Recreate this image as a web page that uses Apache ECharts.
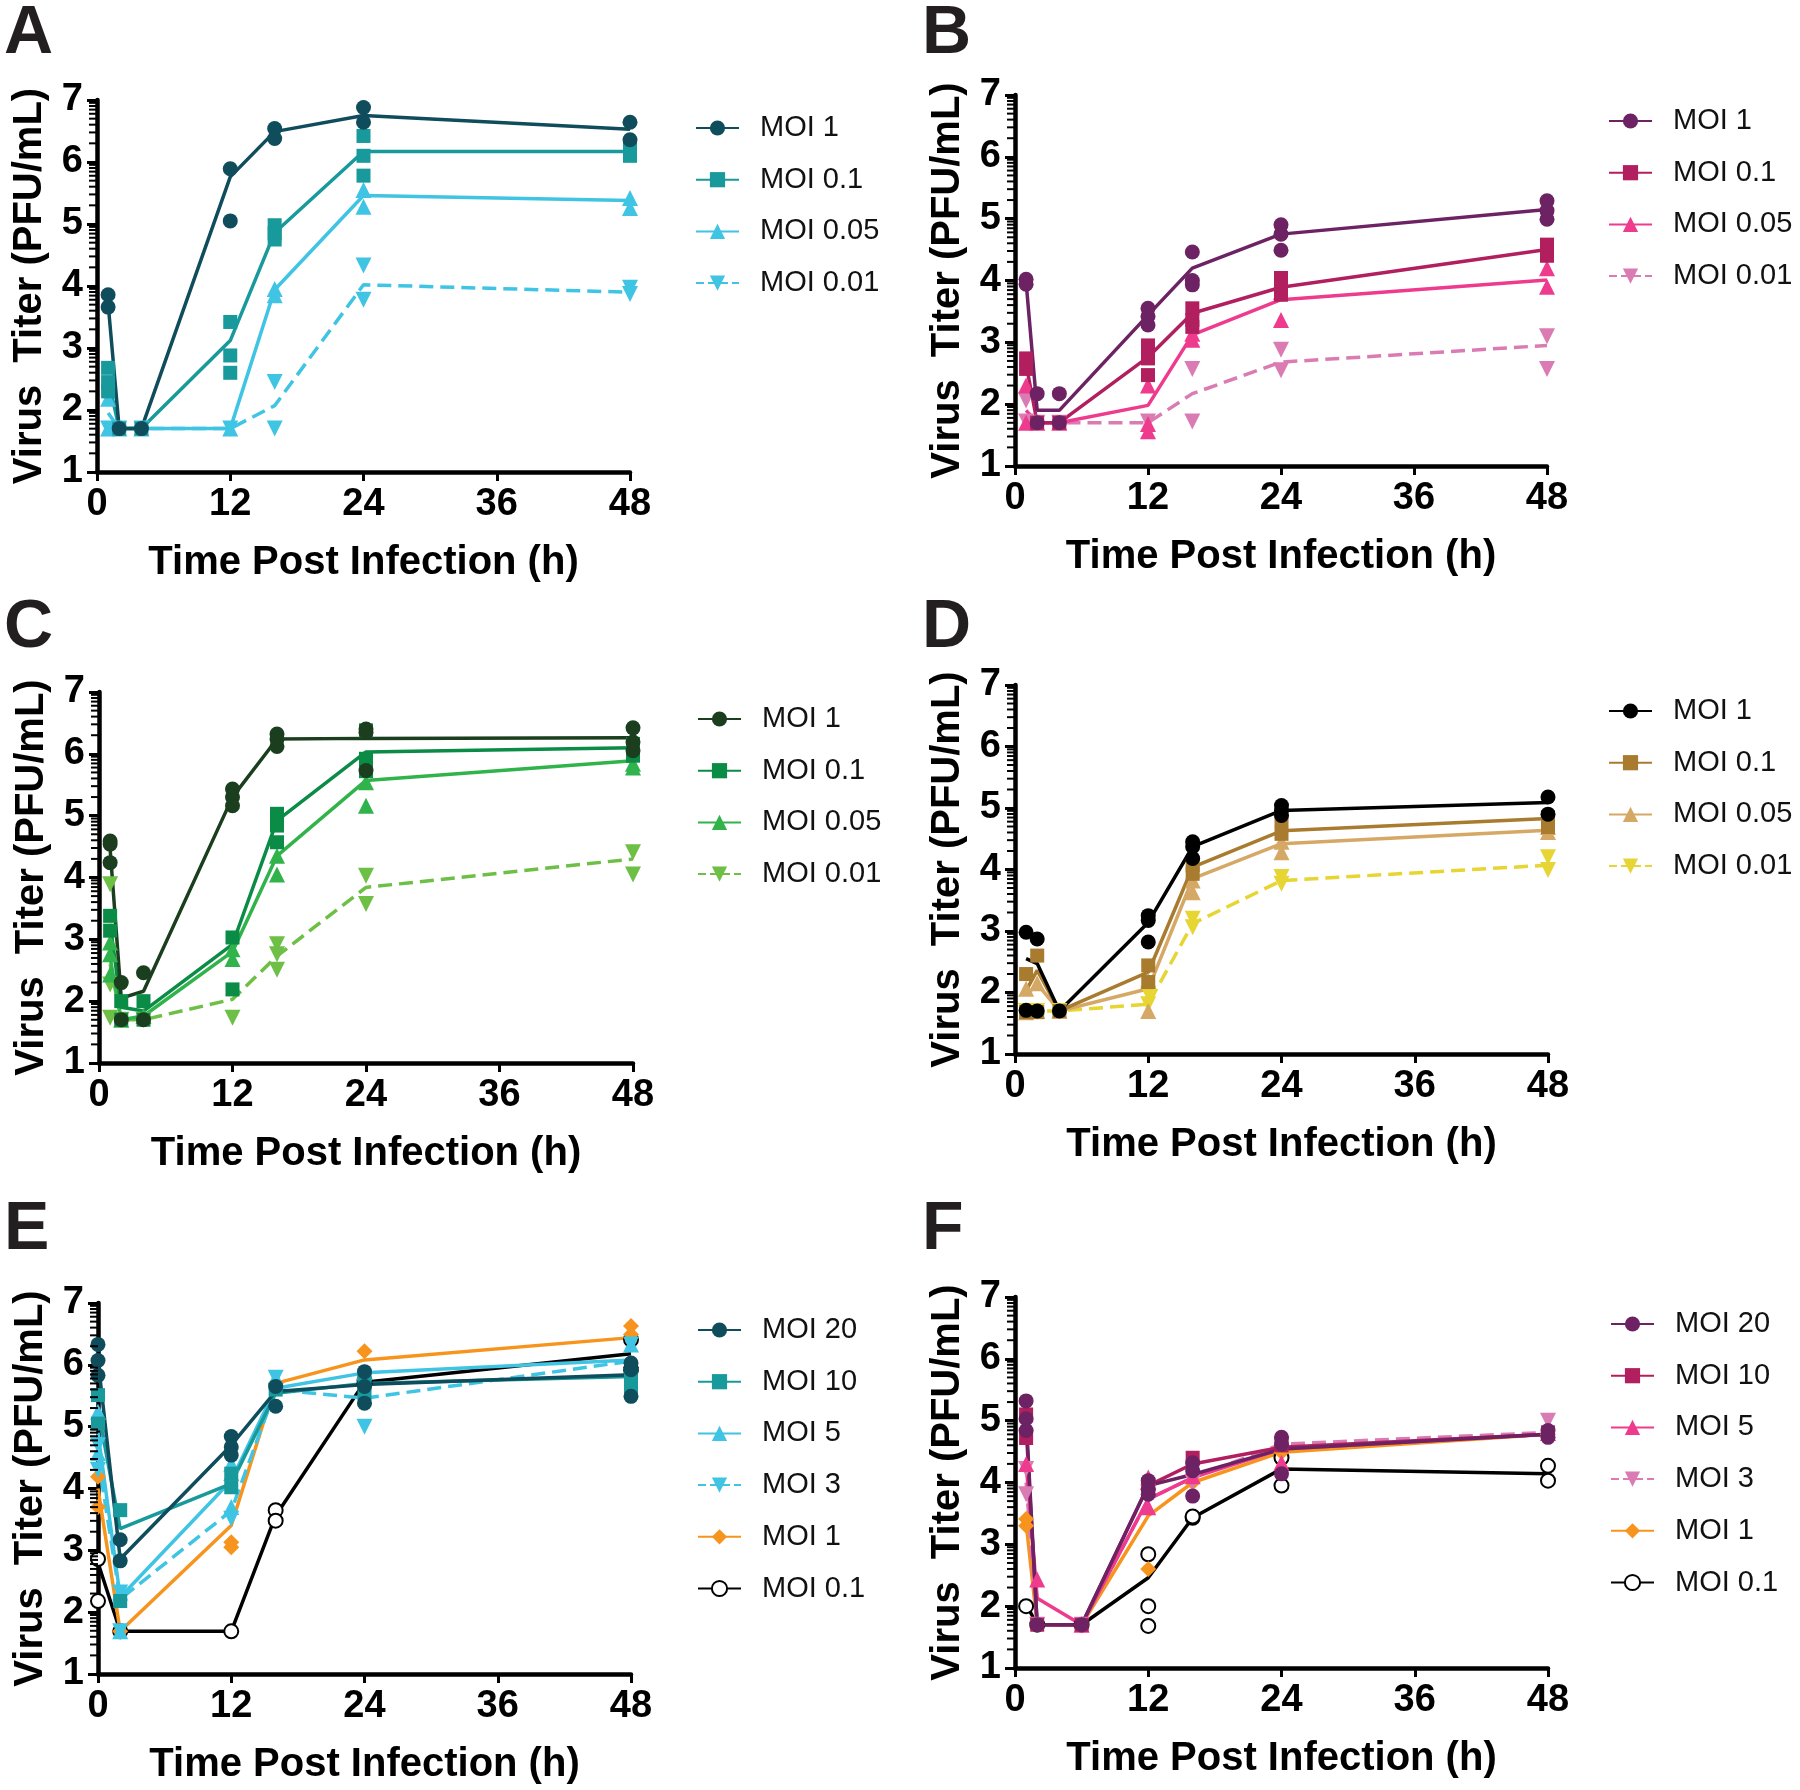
<!DOCTYPE html>
<html><head><meta charset="utf-8">
<script src="https://cdn.jsdelivr.net/npm/echarts@6/dist/echarts.min.js"></script>
<style>html,body{margin:0;padding:0;background:#fff}#c{width:1800px;height:1790px}</style>
</head><body><div id="c"></div>
<script>
// ---------------- DATA ----------------
const panelLetters = ['A', 'B', 'C', 'D', 'E', 'F'];
const xTitle = 'Time Post Infection (h)';
const yTitle = 'Virus  Titer (PFU/mL)';
const xTickValues = [0, 12, 24, 36, 48];
const yTickValues = [1, 2, 3, 4, 5, 6, 7];
const logMinorFractions = [0.301, 0.477, 0.602, 0.699, 0.778, 0.845, 0.903, 0.954];

const labels4 = ['MOI 1', 'MOI 0.1', 'MOI 0.05', 'MOI 0.01'];
const labels6 = ['MOI 20', 'MOI 10', 'MOI 5', 'MOI 3', 'MOI 1', 'MOI 0.1'];

// Panel A
const timesA = [1, 2, 4, 12, 16, 24, 48];
const A_moi1_mean = [3.72, 1.7, 1.7, 5.76, 6.49, 6.75, 6.53];
const A_moi1_reps = [[3.86, 3.66], [1.7], [1.7], [5.89, 5.05], [6.54, 6.38], [6.88, 6.64], [6.64, 6.36]];
const A_moi01_mean = [2.5, 1.7, 1.7, 3.12, 4.86, 6.17, 6.17];
const A_moi01_reps = [[2.68, 2.45, 2.3], [1.7], [1.7], [3.42, 2.88, 2.6], [4.98, 4.85, 4.75], [6.42, 6.1, 5.78], [6.22, 6.1]];
const A_moi005_mean = [1.95, 1.7, 1.7, 1.7, 3.94, 5.46, 5.38];
const A_moi005_reps = [[2.18, 1.7], [1.7], [1.7], [1.7], [3.95, 3.85], [5.55, 5.28], [5.42, 5.26]];
const A_moi001_mean = [1.7, 1.7, 1.7, 1.7, 2.07, 4.02, 3.9];
const A_moi001_reps = [[1.7], [1.7], [1.7], [1.7], [2.45, 1.7], [4.33, 3.78], [3.97, 3.87]];

// Panel B
const timesB = [1, 2, 4, 12, 16, 24, 48];
const B_moi1_mean = [3.98, 1.9, 1.9, 3.44, 4.2, 4.75, 5.15];
const B_moi1_reps = [[4.02, 3.94], [2.17, 1.7], [2.17, 1.7], [3.55, 3.42, 3.28], [4.46, 4.0, 3.93], [4.9, 4.75, 4.49], [5.29, 5.13, 4.99]];
const B_moi01_mean = [2.65, 1.7, 1.7, 2.76, 3.47, 3.89, 4.5];
const B_moi01_reps = [[2.74, 2.57], [1.7], [1.7], [2.95, 2.74, 2.47], [3.55, 3.36, 3.25], [4.04, 3.9, 3.77], [4.58, 4.4]];
const B_moi005_mean = [1.9, 1.7, 1.7, 1.98, 3.12, 3.69, 4.01];
const B_moi005_reps = [[2.3, 1.7], [1.7], [1.7], [2.3, 1.68, 1.56], [3.14, 3.04], [3.82, 3.36], [4.2, 3.9]];
const B_moi001_mean = [1.8, 1.7, 1.7, 1.7, 2.17, 2.68, 2.95];
const B_moi001_reps = [[2.06, 1.72], [1.7], [1.7], [1.72], [2.57, 1.72], [2.88, 2.55], [3.1, 2.57]];

// Panel C
const timesC = [1, 2, 4, 12, 16, 24, 48];
const C_moi1_mean = [4.46, 2.05, 2.16, 5.3, 6.24, 6.25, 6.26];
const C_moi1_reps = [[4.59, 4.54, 4.24], [2.3, 1.7], [2.46, 1.7], [5.43, 5.3, 5.16], [6.32, 6.24, 6.12], [6.4, 6.35, 5.73], [6.42, 6.19, 6.05]];
const C_moi01_mean = [3.25, 1.9, 1.84, 2.92, 4.92, 6.03, 6.1];
const C_moi01_reps = [[3.38, 3.14], [2.0, 1.7], [2.0, 1.7], [3.03, 2.19], [5.03, 4.84, 4.57], [6.38, 5.92, 5.72], [6.16, 5.97]];
const C_moi005_mean = [2.7, 1.7, 1.76, 2.8, 4.35, 5.57, 5.89];
const C_moi005_reps = [[2.95, 2.76, 2.43], [1.7], [1.76], [2.84, 2.68], [4.35, 4.05], [5.54, 5.16], [5.84, 5.78]];
const C_moi001_mean = [2.6, 1.7, 1.7, 2.03, 2.73, 3.84, 4.3];
const C_moi001_reps = [[3.89, 2.27, 1.73], [1.7], [1.7], [1.73], [2.92, 2.76, 2.51], [4.03, 3.57], [4.41, 4.05]];

// Panel D
const timesD = [1, 2, 4, 12, 16, 24, 48];
const D_moi1_mean = [2.55, 2.47, 1.7, 3.14, 4.37, 4.96, 5.09];
const D_moi1_reps = [[2.98, 1.71], [2.87, 1.7], [1.7], [3.25, 3.17, 2.82], [4.45, 4.37, 4.18], [5.04, 4.96, 4.88], [5.18, 4.9]];
const D_moi01_mean = [2.03, 2.36, 1.7, 2.33, 4.04, 4.63, 4.83];
const D_moi01_reps = [[2.3, 1.68], [2.6, 1.68], [1.7], [2.44, 2.17], [4.07, 3.93], [4.8, 4.58], [4.85, 4.69]];
const D_moi005_mean = [1.95, 2.14, 1.7, 2.06, 3.85, 4.42, 4.64];
const D_moi005_reps = [[2.06, 1.68], [2.15, 1.7], [1.7], [2.19, 1.7], [3.82, 3.63], [4.45, 4.28], [4.69, 4.61]];
const D_moi001_mean = [1.7, 1.7, 1.7, 1.81, 3.12, 3.82, 4.07];
const D_moi001_reps = [[1.7], [1.7], [1.7], [1.98, 1.81], [3.2, 3.06], [3.88, 3.77], [4.2, 3.99]];

// Panel E
const timesE = [0, 2, 12, 16, 24, 48];
const E_moi20_mean = [6.08, 2.86, 4.7, 5.57, 5.68, 5.84];
const E_moi20_reps = [[6.33, 6.07, 5.83], [3.17, 2.83], [4.84, 4.67, 4.54], [5.65, 5.33], [5.89, 5.65, 5.38], [6.03, 5.92, 5.49]];
const E_moi10_mean = [5.28, 3.35, 4.08, 5.54, 5.7, 5.81];
const E_moi10_reps = [[5.51, 5.05], [3.65, 2.18], [4.24, 4.02], [5.6], [5.76, 5.54], [5.81, 5.65]];
const E_moi5_mean = [4.9, 2.24, 4.13, 5.62, 5.87, 6.08];
const E_moi5_reps = [[5.24, 4.57], [2.32, 1.69], [4.4, 4.25, 3.7], [5.79], [5.89], [6.33, 6.0]];
const E_moi3_mean = [4.5, 2.21, 3.64, 5.6, 5.46, 6.06];
const E_moi3_reps = [[4.7, 4.3], [2.32, 1.69], [3.51], [5.79], [5.65, 5.0], [6.33, 5.81]];
const E_moi1_mean = [4.0, 1.69, 3.4, 5.7, 6.08, 6.44];
const E_moi1_reps = [[4.19, 3.7], [1.69], [3.13, 3.05], [5.7], [6.22], [6.63, 6.49]];
const E_moi01_mean = [2.8, 1.69, 1.69, 3.56, 5.72, 6.18];
const E_moi01_reps = [[2.86, 2.18], [1.69], [1.69], [3.65, 3.48], [5.75, 5.7], [6.41, 5.92]];

// Panel F
const timesF = [1, 2, 6, 12, 16, 24, 48];
const F_moi20_mean = [5.06, 1.7, 1.7, 3.95, 4.13, 4.54, 4.78];
const F_moi20_reps = [[5.32, 5.03, 4.84], [1.7], [1.7], [4.03, 3.89, 3.81], [4.32, 4.19, 3.78], [4.73, 4.62, 4.14], [4.84, 4.73]];
const F_moi10_mean = [4.9, 1.7, 1.7, 3.95, 4.3, 4.57, 4.78];
const F_moi10_reps = [[5.1, 4.72], [1.7], [1.7], [3.97], [4.4], [4.6], [4.81]];
const F_moi5_mean = [4.3, 2.13, 1.7, 3.73, 4.08, 4.54, 4.78];
const F_moi5_reps = [[4.3], [2.43], [1.7], [4.08, 3.6], [4.1], [4.32], [4.8]];
const F_moi3_mean = [4.0, 1.7, 1.7, 3.73, 4.08, 4.62, 4.81];
const F_moi3_reps = [[4.22, 3.81], [1.7], [1.7], [3.76], [4.0], [4.62], [5.0]];
const F_moi1_mean = [3.35, 1.7, 1.7, 3.46, 4.0, 4.49, 4.78];
const F_moi1_reps = [[3.41, 3.3], [1.7], [1.7], [3.9, 3.9, 2.6], [4.0], [4.49], [4.78]];
const F_moi01_mean = [2.03, 1.7, 1.7, 2.46, 3.43, 4.22, 4.14];
const F_moi01_reps = [[2.0], [1.7], [1.7], [2.84, 2.0, 1.68], [3.43, 3.45], [4.4, 3.95], [4.27, 4.03]];

// ---------------- STYLE / LAYOUT ----------------
const FONT = '"Liberation Sans", Arial, Helvetica, sans-serif';
const SYM = {
  circle: {symbol: 'circle', rot: 0, size: 15},
  square: {symbol: 'rect', rot: 0, size: 14},
  up: {symbol: 'triangle', rot: 0, size: 16},
  down: {symbol: 'triangle', rot: 180, size: 16},
  diamond: {symbol: 'diamond', rot: 0, size: 16},
  open: {symbol: 'emptyCircle', rot: 0, size: 14}
};

const panels = [
  {grid: {left: 97, top: 100, width: 533, height: 372}, legend: {left: 695, top: 113}, letter: [4, 0], times: timesA,
   series: [
     {label: labels4[0], color: '#0f4c5c', shape: 'circle', mean: A_moi1_mean, reps: A_moi1_reps},
     {label: labels4[1], color: '#18999b', shape: 'square', mean: A_moi01_mean, reps: A_moi01_reps},
     {label: labels4[2], color: '#40c4e4', shape: 'up', mean: A_moi005_mean, reps: A_moi005_reps},
     {label: labels4[3], color: '#40c4e4', shape: 'down', dashed: true, mean: A_moi001_mean, reps: A_moi001_reps}]},
  {grid: {left: 1015, top: 95, width: 532, height: 371}, legend: {left: 1608, top: 106}, letter: [922, 0], times: timesB,
   series: [
     {label: labels4[0], color: '#6c2263', shape: 'circle', mean: B_moi1_mean, reps: B_moi1_reps},
     {label: labels4[1], color: '#b11f5f', shape: 'square', mean: B_moi01_mean, reps: B_moi01_reps},
     {label: labels4[2], color: '#ee3b8d', shape: 'up', mean: B_moi005_mean, reps: B_moi005_reps},
     {label: labels4[3], color: '#da7cb3', shape: 'down', dashed: true, mean: B_moi001_mean, reps: B_moi001_reps}]},
  {grid: {left: 99, top: 692, width: 534, height: 371}, legend: {left: 697, top: 704}, letter: [4, 594], times: timesC,
   series: [
     {label: labels4[0], color: '#1b3f1e', shape: 'circle', mean: C_moi1_mean, reps: C_moi1_reps},
     {label: labels4[1], color: '#0a8b46', shape: 'square', mean: C_moi01_mean, reps: C_moi01_reps},
     {label: labels4[2], color: '#31b34b', shape: 'up', mean: C_moi005_mean, reps: C_moi005_reps},
     {label: labels4[3], color: '#6dbf46', shape: 'down', dashed: true, mean: C_moi001_mean, reps: C_moi001_reps}]},
  {grid: {left: 1015, top: 685, width: 533, height: 369}, legend: {left: 1608, top: 696}, letter: [922, 594], times: timesD,
   series: [
     {label: labels4[0], color: '#000000', shape: 'circle', mean: D_moi1_mean, reps: D_moi1_reps},
     {label: labels4[1], color: '#a87b2e', shape: 'square', mean: D_moi01_mean, reps: D_moi01_reps},
     {label: labels4[2], color: '#d6a866', shape: 'up', mean: D_moi005_mean, reps: D_moi005_reps},
     {label: labels4[3], color: '#e7d533', shape: 'down', dashed: true, mean: D_moi001_mean, reps: D_moi001_reps}]},
  {grid: {left: 98, top: 1303, width: 533, height: 371}, legend: {left: 697, top: 1315}, letter: [4, 1196], times: timesE,
   series: [
     {label: labels6[0], color: '#0f4c5c', shape: 'circle', mean: E_moi20_mean, reps: E_moi20_reps},
     {label: labels6[1], color: '#18999b', shape: 'square', mean: E_moi10_mean, reps: E_moi10_reps},
     {label: labels6[2], color: '#40c4e4', shape: 'up', mean: E_moi5_mean, reps: E_moi5_reps},
     {label: labels6[3], color: '#40c4e4', shape: 'down', dashed: true, mean: E_moi3_mean, reps: E_moi3_reps},
     {label: labels6[4], color: '#f7941d', shape: 'diamond', mean: E_moi1_mean, reps: E_moi1_reps},
     {label: labels6[5], color: '#000000', shape: 'open', mean: E_moi01_mean, reps: E_moi01_reps}]},
  {grid: {left: 1015, top: 1297, width: 533, height: 371}, legend: {left: 1610, top: 1309}, letter: [922, 1196], times: timesF,
   series: [
     {label: labels6[0], color: '#6c2263', shape: 'circle', mean: F_moi20_mean, reps: F_moi20_reps},
     {label: labels6[1], color: '#b11f5f', shape: 'square', mean: F_moi10_mean, reps: F_moi10_reps},
     {label: labels6[2], color: '#ee3b8d', shape: 'up', mean: F_moi5_mean, reps: F_moi5_reps},
     {label: labels6[3], color: '#da7cb3', shape: 'down', dashed: true, mean: F_moi3_mean, reps: F_moi3_reps},
     {label: labels6[4], color: '#f7941d', shape: 'diamond', mean: F_moi1_mean, reps: F_moi1_reps},
     {label: labels6[5], color: '#000000', shape: 'open', mean: F_moi01_mean, reps: F_moi01_reps}]}
];

// minor tick positions (log-decade style) from the fraction list
const minorTickValues = [];
yTickValues.slice(0, -1).forEach(k => logMinorFractions.forEach(f => minorTickValues.push([0, k + f])));

const grids = [], xAxes = [], yAxes = [], legends = [], series = [], graphics = [];

panels.forEach((p, pi) => {
  const key = panelLetters[pi];
  grids.push(Object.assign({containLabel: false, outerBoundsMode: 'none'}, p.grid));
  xAxes.push({
    type: 'value', gridIndex: pi, min: xTickValues[0], max: xTickValues[xTickValues.length - 1], interval: 12,
    name: xTitle, nameLocation: 'middle', nameGap: 71,
    nameTextStyle: {fontFamily: FONT, fontWeight: 'bold', fontSize: 40, color: '#000'},
    axisLine: {onZero: false, lineStyle: {color: '#000', width: 4.5}},
    axisTick: {show: true, inside: false, length: 9, lineStyle: {color: '#000', width: 3}},
    axisLabel: {fontFamily: FONT, fontWeight: 'bold', fontSize: 38, color: '#000', margin: 14},
    splitLine: {show: false}
  });
  yAxes.push({
    type: 'value', gridIndex: pi, min: yTickValues[0], max: yTickValues[yTickValues.length - 1], interval: 1,
    name: yTitle, nameLocation: 'middle', nameRotate: 90, nameGap: 47,
    nameTextStyle: {fontFamily: FONT, fontWeight: 'bold', fontSize: 40, color: '#000'},
    axisLine: {onZero: false, lineStyle: {color: '#000', width: 4.5}},
    axisTick: {show: true, inside: false, length: 10, lineStyle: {color: '#000', width: 3}},
    axisLabel: {fontFamily: FONT, fontWeight: 'bold', fontSize: 38, color: '#000', margin: 14},
    splitLine: {show: false}
  });
  const n = p.series.length;
  const legendNames = [];
  p.series.forEach((s, si) => {
    const sym = SYM[s.shape];
    const name = key + '|' + s.label;
    legendNames.push(name);
    series.push({
      type: 'line', name: name, xAxisIndex: pi, yAxisIndex: pi,
      data: p.times.map((t, i) => [t, s.mean[i]]),
      symbol: sym.symbol, symbolRotate: sym.rot, symbolSize: sym.size, showSymbol: false,
      lineStyle: {color: s.color, width: 3.5, type: s.dashed ? 'dashed' : 'solid'},
      itemStyle: {color: s.color, borderWidth: s.shape === 'open' ? 2.5 : 0},
      z: 2 + (n - si), silent: true, animation: false
    });
    const pts = [];
    p.times.forEach((t, i) => s.reps[i].forEach(v => pts.push([t, v])));
    series.push({
      type: 'scatter', name: key + '|pts|' + s.label, xAxisIndex: pi, yAxisIndex: pi,
      data: pts, symbol: sym.symbol, symbolRotate: sym.rot, symbolSize: sym.size,
      itemStyle: {color: s.color, borderColor: s.color, borderWidth: s.shape === 'open' ? 2.8 : 0, opacity: 1},
      z: 10 + (n - si), silent: true, animation: false
    });
  });
  series.push({
    type: 'custom', xAxisIndex: pi, yAxisIndex: pi, data: minorTickValues, clip: false, silent: true, z: 30,
    renderItem: (params, api) => {
      const c = api.coord([api.value(0), api.value(1)]);
      return {type: 'line', shape: {x1: c[0] - 8, y1: c[1], x2: c[0], y2: c[1]}, style: {stroke: '#000', lineWidth: 2}};
    }
  });
  legends.push({
    show: true, orient: 'vertical', left: p.legend.left, top: p.legend.top, padding: 0,
    data: legendNames, selectedMode: false,
    itemWidth: 43, itemHeight: 19, itemGap: 21.7,
    formatter: nm => nm.split('|')[1],
    textStyle: {fontFamily: FONT, fontSize: 29, color: '#111', lineHeight: 30, padding: [0, 0, 0, 16]}
  });
  graphics.push({
    type: 'text', left: p.letter[0], top: p.letter[1],
    style: {text: key, fontFamily: FONT, fontWeight: 'bold', fontSize: 68, fill: '#231f20'}
  });
});

const chart = echarts.init(document.getElementById('c'), null, {renderer: 'canvas', width: 1800, height: 1790});
chart.setOption({
  backgroundColor: '#fff',
  animation: false,
  grid: grids, xAxis: xAxes, yAxis: yAxes, legend: legends, series: series,
  graphic: graphics
});
</script></body></html>
